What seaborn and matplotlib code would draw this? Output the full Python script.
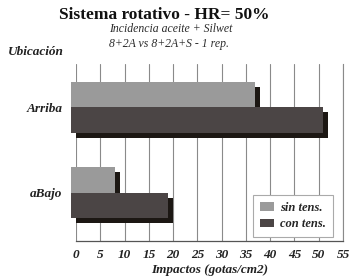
import matplotlib
matplotlib.use('Agg')
import matplotlib.pyplot as plt
import matplotlib.patheffects as pe
from matplotlib.patches import Patch
import seaborn as sns
import pandas as pd

categories = ['Arriba', 'aBajo']
series = ['sin tens.', 'con tens.']
sin_tens = [38, 9]
con_tens = [52, 20]
x_ticks = list(range(0, 56, 5))

df = pd.DataFrame({
    'Ubicación': categories * 2,
    'Serie': [series[0]] * len(categories) + [series[1]] * len(categories),
    'Impactos': sin_tens + con_tens,
})

sns.set_theme(style='white')
plt.rcParams['font.family'] = ['Liberation Serif', 'DejaVu Serif']

front_colors = {'sin tens.': '#9a9a9a', 'con tens.': '#4b4545'}
side_color = '#1c1713'

fig = plt.figure(figsize=(3.55, 2.8), dpi=100)
ax = fig.add_axes([76 / 355, 1 - 241 / 280, (343 - 76) / 355, (241 - 64) / 280])

sns.barplot(data=df, y='Ubicación', x='Impactos', hue='Serie', order=categories,
            hue_order=series, palette=front_colors, orient='h', width=0.6, gap=0,
            saturation=1, ax=ax, legend=False)

d = 3.6  # 3D depth in points
for p in ax.patches:
    fc = p.get_facecolor()
    p.set_clip_on(False)
    p.set_path_effects([
        pe.PathPatchEffect(offset=(0, -d), facecolor=side_color, edgecolor='none'),
        pe.PathPatchEffect(offset=(-d, 0), facecolor=fc, edgecolor='none'),
    ])

ax.set_xlim(0, 55)
ax.set_ylim(1.565, -0.506)
ax.xaxis.grid(True, color='#8a8a8a', lw=0.8)
ax.yaxis.grid(False)
ax.set_axisbelow(True)

ax.spines['top'].set_visible(False)
ax.spines['left'].set_visible(False)
ax.spines['right'].set_color('#8a8a8a')
ax.spines['right'].set_linewidth(0.8)
ax.spines['bottom'].set_color('#555555')
ax.spines['bottom'].set_linewidth(0.9)

ax.tick_params(axis='x', length=3, width=0.8, color='#555555', pad=3)
ax.tick_params(axis='y', length=6.8, width=0.8, color='#333333', pad=3)
ax.set_xticks(x_ticks)
ax.set_xticklabels([str(t) for t in x_ticks], fontsize=9.5, fontweight='bold',
                   fontstyle='italic', color='#222222')
ax.set_yticks(range(len(categories)))
ax.set_yticklabels(categories, fontsize=9.5, fontweight='bold',
                   fontstyle='italic', color='#222222')

ax.set_ylabel('')
ax.set_xlabel('Impactos (gotas/cm2)', fontsize=9.5, fontweight='bold', fontstyle='italic',
              color='#222222', labelpad=2)

fig.text(164 / 355, 1 - 15 / 280, 'Sistema rotativo - HR= 50%', ha='center', va='center',
         fontsize=12.5, fontweight='bold', color='#111111')
fig.text(171 / 355, 1 - 29.5 / 280, 'Incidencia aceite + Silwet', ha='center', va='center',
         fontsize=8.5, fontstyle='italic', color='#2a2a2a')
fig.text(169 / 355, 1 - 43.5 / 280, '8+2A vs 8+2A+S - 1 rep.', ha='center', va='center',
         fontsize=8.5, fontstyle='italic', color='#2a2a2a')
fig.text(8 / 355, 1 - 52 / 280, 'Ubicación', ha='left', va='center',
         fontsize=9.5, fontweight='bold', fontstyle='italic', color='#222222')

handles = [Patch(facecolor=front_colors[s], edgecolor='none') for s in series]
leg = ax.legend(handles, series, loc='upper left',
                bbox_to_anchor=(253 / 355, 1 - 195 / 280), bbox_transform=fig.transFigure,
                frameon=True, fancybox=False, edgecolor='#aaaaaa', framealpha=1,
                prop=dict(weight='bold', style='italic', size=9),
                handlelength=1.1, handleheight=0.7, handletextpad=0.55,
                borderpad=0.55, labelspacing=0.35, borderaxespad=0)
leg.get_frame().set_linewidth(0.8)

fig.savefig('out.png', dpi=100)
